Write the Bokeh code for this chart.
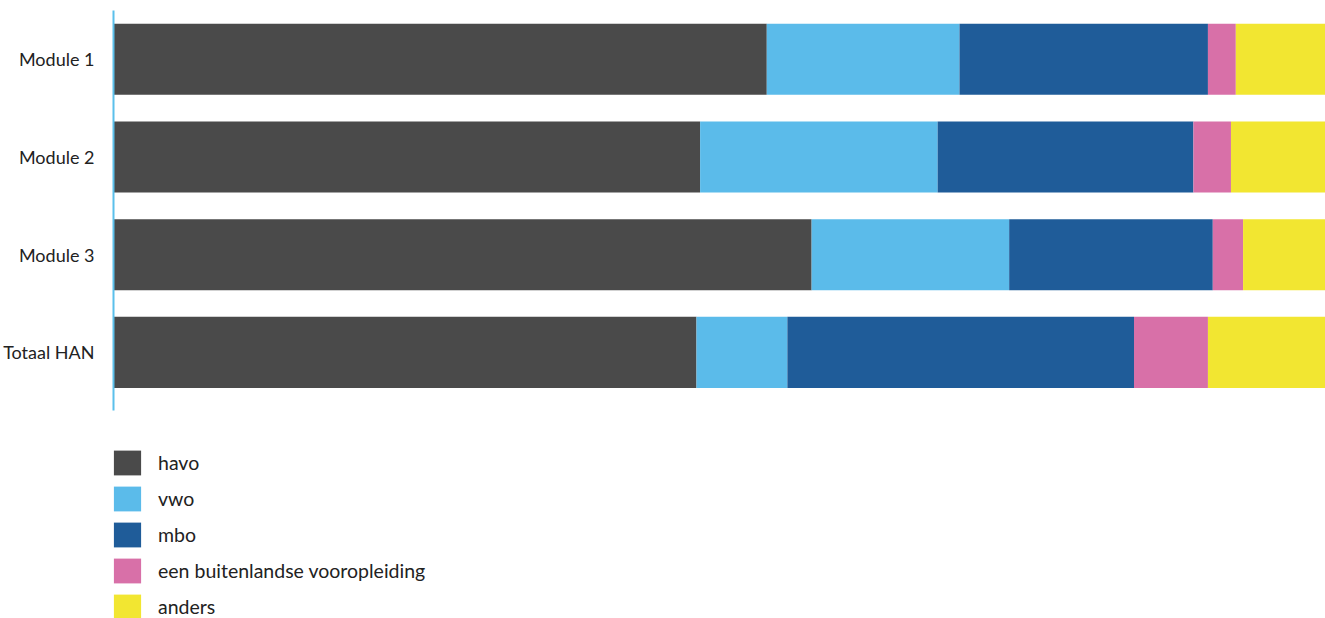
from bokeh.plotting import figure
from bokeh.models import ColumnDataSource, Range1d, FixedTicker, Legend, LegendItem
from bokeh.embed import file_html
from bokeh.resources import INLINE

categories = ["Module 1", "Module 2", "Module 3", "Totaal HAN"]
series = ["havo", "vwo", "mbo", "een buitenlandse vooropleiding", "anders"]
havo = [53.9, 48.4, 57.6, 48.1]
vwo = [15.9, 19.6, 16.3, 7.5]
mbo = [20.5, 21.1, 16.8, 28.6]
buitenland = [2.3, 3.1, 2.5, 6.1]
anders = [7.4, 7.8, 6.8, 9.7]
colors = ["#4a4a4a", "#5bbbea", "#1f5c99", "#d870a8", "#f2e631"]

keys = ["havo", "vwo", "mbo", "buitenland", "anders"]
pos = [i + 0.5 for i in range(len(categories))]
src = ColumnDataSource(dict(y=pos, havo=havo, vwo=vwo, mbo=mbo,
                            buitenland=buitenland, anders=anders))

band = 4.095  # extent of the bar area in category units
p = figure(width=1325, height=618, output_backend="svg", toolbar_location=None,
           x_range=Range1d(0, 100), y_range=Range1d(band * 608 / 400, 0),
           min_border_left=113, min_border_right=0, min_border_top=10,
           min_border_bottom=0)
p.outline_line_color = None
p.grid.visible = False
p.xaxis.visible = False

rs = p.hbar_stack(keys, y="y", height=0.727, source=src, color=colors,
                  line_color=None)

ya = p.yaxis[0]
ya.bounds = (0, band)
ya.ticker = FixedTicker(ticks=pos)
ya.major_label_overrides = {pv: c for pv, c in zip(pos, categories)}
ya.axis_line_color = "#5bc0eb"
ya.axis_line_width = 2
ya.major_tick_line_color = None
ya.minor_tick_line_color = None
ya.major_tick_out = 0
ya.major_tick_in = 0
ya.major_label_standoff = 19
ya.major_label_text_font = "Lato"
ya.major_label_text_font_size = "18px"
ya.major_label_text_color = "#222222"

lg = Legend(items=[LegendItem(label=s, renderers=[r]) for s, r in zip(series, rs)])
lg.location = (-3, -4)
lg.orientation = "vertical"
lg.glyph_width = 34
lg.glyph_height = 31
lg.label_height = 31
lg.spacing = 5
lg.padding = 0
lg.margin = 0
lg.label_standoff = 14
lg.label_text_font = "Lato"
lg.label_text_font_size = "19.5px"
lg.label_text_color = "#222222"
lg.border_line_color = None
lg.background_fill_alpha = 0
p.add_layout(lg, "center")

open("out.html", "w").write(file_html(p, INLINE))
